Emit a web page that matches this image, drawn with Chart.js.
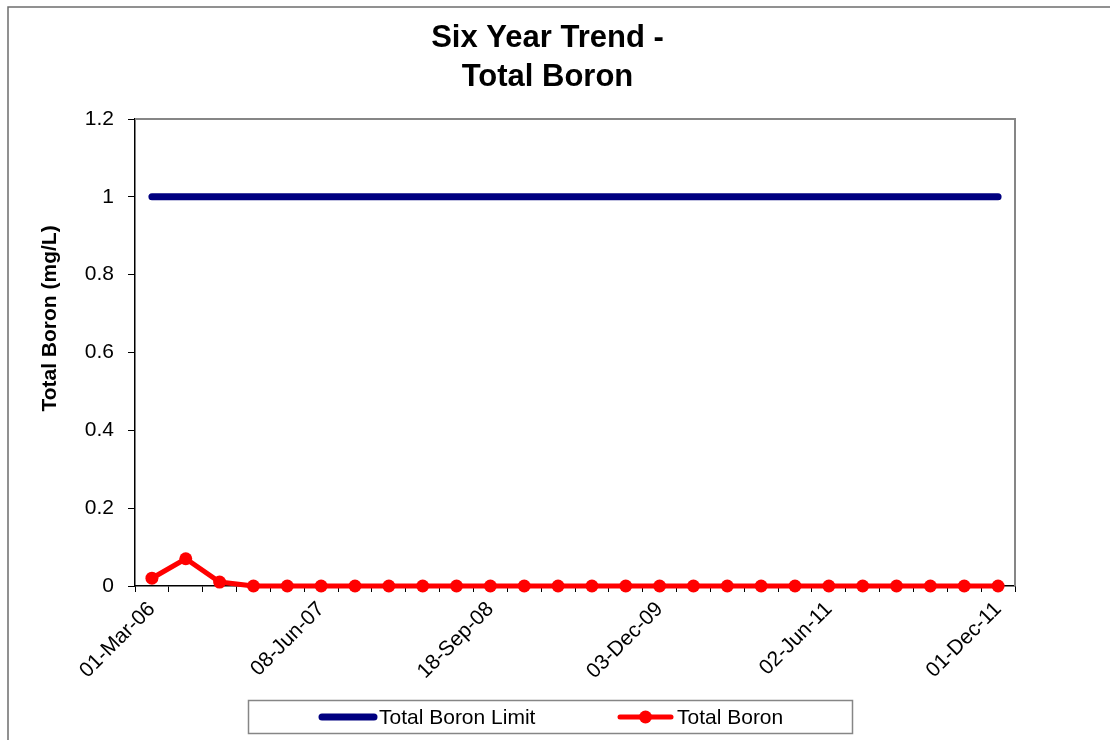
<!DOCTYPE html>
<html>
<head>
<meta charset="utf-8">
<title>Six Year Trend - Total Boron</title>
<script src="https://cdn.jsdelivr.net/npm/chart.js@4.4.0/dist/chart.umd.min.js"></script>
<style>
  html, body { margin: 0; padding: 0; background: #ffffff; }
  #wrap { width: 1110px; height: 740px; position: relative; }
  canvas { display: block; }
</style>
</head>
<body>
<div id="wrap"><canvas id="boronChart" width="1110" height="740"></canvas></div>
<script>
// ---- data -------------------------------------------------------------
// Sampling events; only every fifth date is printed on the axis.
const sampleDates = [
  '01-Mar-06', '', '', '', '',
  '08-Jun-07', '', '', '', '',
  '18-Sep-08', '', '', '', '',
  '03-Dec-09', '', '', '', '',
  '02-Jun-11', '', '', '', '',
  '01-Dec-11'
];
const boronLimit = [1, 1, 1, 1, 1, 1, 1, 1, 1, 1, 1, 1, 1, 1, 1, 1, 1, 1, 1, 1, 1, 1, 1, 1, 1, 1];
const totalBoron = [0.02, 0.07, 0.01, 0, 0, 0, 0, 0, 0, 0, 0, 0, 0, 0, 0, 0, 0, 0, 0, 0, 0, 0, 0, 0, 0, 0];
const yTickValues = [0, 0.2, 0.4, 0.6, 0.8, 1, 1.2];

const seriesNames = ['Total Boron Limit', 'Total Boron'];
const chartTitleLines = ['Six Year Trend -', 'Total Boron'];
const yAxisTitle = 'Total Boron (mg/L)';

// ---- look -------------------------------------------------------------
const FONT = '"Liberation Sans", Arial, Helvetica, sans-serif';
const LIMIT_COLOR = '#000080';
const BORON_COLOR = '#ff0000';
const FRAME_GRAY = '#868686';

// Outer frame, plot-area border (top/right) drawn behind the series.
const framePlugin = {
  id: 'framePlugin',
  beforeDraw(chart) {
    const ctx = chart.ctx;
    ctx.save();
    ctx.fillStyle = '#ffffff';
    ctx.fillRect(0, 0, chart.width, chart.height);
    ctx.strokeStyle = '#6e6e6e';
    ctx.lineWidth = 1.5;
    ctx.beginPath();
    ctx.moveTo(8, chart.height);
    ctx.lineTo(8, 7);
    ctx.lineTo(chart.width, 7);
    ctx.stroke();
    ctx.restore();
  },
  beforeDatasetsDraw(chart) {
    const {ctx, chartArea: a} = chart;
    ctx.save();
    ctx.strokeStyle = FRAME_GRAY;
    ctx.lineWidth = 2;
    ctx.beginPath();
    ctx.moveTo(a.left, a.top);
    ctx.lineTo(a.right, a.top);
    ctx.lineTo(a.right, a.bottom);
    ctx.stroke();
    ctx.restore();
  }
};

// Chart title, vertical axis title and the boxed legend.
const textPlugin = {
  id: 'textPlugin',
  afterDraw(chart) {
    const ctx = chart.ctx;
    ctx.save();
    ctx.fillStyle = '#000000';

    // title
    ctx.font = 'bold 31px ' + FONT;
    ctx.textAlign = 'center';
    ctx.textBaseline = 'alphabetic';
    ctx.fillText(chartTitleLines[0], 547.5, 47);
    ctx.fillText(chartTitleLines[1], 547.5, 86);

    // y axis title
    ctx.save();
    ctx.translate(56, 318.5);
    ctx.rotate(-Math.PI / 2);
    ctx.font = 'bold 21px ' + FONT;
    ctx.textAlign = 'center';
    ctx.fillText(yAxisTitle, 0, 0);
    ctx.restore();

    // legend box
    const ds = chart.data.datasets;
    ctx.strokeStyle = FRAME_GRAY;
    ctx.lineWidth = 1.5;
    ctx.strokeRect(248.5, 700.5, 604, 33);
    const cy = 717;

    // limit entry
    ctx.strokeStyle = ds[0].borderColor;
    ctx.lineWidth = 7;
    ctx.lineCap = 'round';
    ctx.beginPath();
    ctx.moveTo(322, cy);
    ctx.lineTo(374, cy);
    ctx.stroke();

    // boron entry
    ctx.strokeStyle = ds[1].borderColor;
    ctx.lineWidth = 5;
    ctx.beginPath();
    ctx.moveTo(620, cy);
    ctx.lineTo(671, cy);
    ctx.stroke();
    ctx.fillStyle = ds[1].pointBackgroundColor;
    ctx.beginPath();
    ctx.arc(645.5, cy, 6.5, 0, Math.PI * 2);
    ctx.fill();

    ctx.fillStyle = '#000000';
    ctx.font = '21px ' + FONT;
    ctx.textAlign = 'left';
    ctx.textBaseline = 'middle';
    ctx.fillText(ds[0].label, 379, cy + 1);
    ctx.fillText(ds[1].label, 677, cy + 1);
    ctx.restore();
  }
};

new Chart(document.getElementById('boronChart'), {
  type: 'line',
  data: {
    labels: sampleDates,
    datasets: [
      {
        label: seriesNames[0],
        data: boronLimit,
        borderColor: LIMIT_COLOR,
        backgroundColor: LIMIT_COLOR,
        borderWidth: 7,
        borderCapStyle: 'round',
        pointRadius: 0,
        tension: 0,
        clip: false
      },
      {
        label: seriesNames[1],
        data: totalBoron,
        borderColor: BORON_COLOR,
        backgroundColor: BORON_COLOR,
        pointBackgroundColor: BORON_COLOR,
        pointBorderColor: BORON_COLOR,
        borderWidth: 5,
        pointRadius: 6.5,
        pointBorderWidth: 0,
        tension: 0,
        clip: false
      }
    ]
  },
  options: {
    responsive: false,
    animation: false,
    events: [],
    layout: { padding: { top: 119, right: 95, bottom: 54, left: 0 } },
    plugins: {
      legend: { display: false },
      title: { display: false },
      tooltip: { enabled: false }
    },
    scales: {
      x: {
        type: 'category',
        offset: true,
        grid: {
          display: true,
          offset: true,
          drawOnChartArea: false,
          drawTicks: true,
          tickLength: 6,
          color: '#000000',
          lineWidth: 1
        },
        border: { display: true, color: '#000000', width: 1.5 },
        ticks: {
          autoSkip: false,
          minRotation: 45,
          maxRotation: 45,
          padding: 5,
          color: '#000000',
          font: { family: FONT, size: 21 }
        },
        afterFit(scale) { scale.height = 100; }
      },
      y: {
        min: 0,
        max: 1.2,
        afterBuildTicks(scale) { scale.ticks = yTickValues.map(v => ({ value: v })); },
        grid: {
          display: true,
          drawOnChartArea: false,
          drawTicks: true,
          tickLength: 7,
          color: '#000000',
          lineWidth: 1
        },
        border: { display: true, color: '#000000', width: 1.5 },
        ticks: {
          padding: 14,
          color: '#000000',
          font: { family: FONT, size: 21 },
          callback: v => String(Math.round(v * 10) / 10)
        },
        afterFit(scale) { scale.width = 135; }
      }
    }
  },
  plugins: [framePlugin, textPlugin]
});
</script>
</body>
</html>
